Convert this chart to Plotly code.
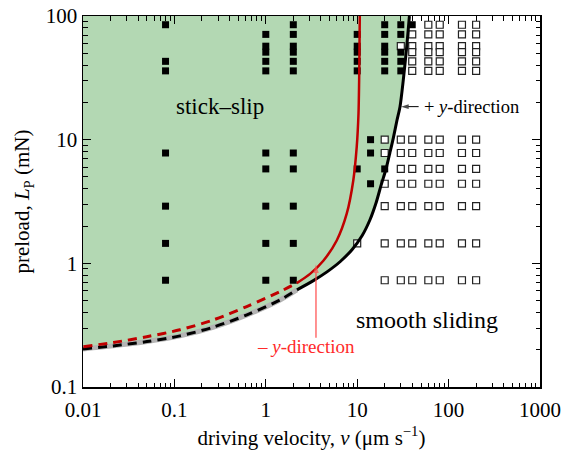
import plotly.graph_objects as go

FONT = "Liberation Serif"

# ---------------- data ----------------
# stick-slip observations (filled squares): velocity (um/s) -> preloads (mN)
stick_slip = {
    0.08: [85, 43, 36, 7.8, 2.9, 1.45, 0.73],
    1: [71, 57, 51, 43, 36, 7.8, 5.8, 2.9, 1.45, 0.73],
    2: [85, 71, 57, 51, 43, 36, 7.8, 5.8, 2.9, 1.45, 0.73],
    10: [71, 57, 51, 43, 36, 5.8],
    14: [10, 7.8, 4.4],
    20: [85, 71, 57, 51, 43, 36, 5.8],
    30: [85, 71, 51, 43, 36],
    40: [85],
}
# smooth-sliding observations (open squares)
smooth = {
    10: [1.45],
    20: [10, 7.8, 4.4, 2.9, 1.45, 0.73],
    30: [57, 10, 7.8, 5.8, 4.4, 2.9, 1.45, 0.73],
    40: [71, 57, 51, 43, 36, 10, 7.8, 5.8, 4.4, 2.9, 1.45, 0.73],
    60: [85, 71, 57, 51, 43, 36, 10, 7.8, 5.8, 4.4, 2.9, 1.45, 0.73],
    80: [85, 71, 57, 51, 43, 36, 10, 7.8, 5.8, 4.4, 2.9, 1.45, 0.73],
    140: [85, 71, 57, 51, 43, 36, 10, 7.8, 5.8, 4.4, 2.9, 1.45, 0.73],
    200: [85, 71, 57, 51, 43, 36, 10, 7.8, 5.8, 4.4, 2.9, 1.45, 0.73],
}

# + y-direction boundary (black)
black_dash_v = [0.010, 0.0213, 0.0501, 0.115, 0.264, 0.622, 1.43, 2.19]
black_dash_L = [0.203, 0.215, 0.233, 0.259, 0.304, 0.383, 0.506, 0.610]
black_solid_v = [2.19, 3.28, 4.67, 6.49, 8.77, 11.3, 13.8, 16.1, 18.2, 20.7, 22.8,
                 24.9, 27.2, 29.4, 31.9, 34.8, 37.2, 37.3]
black_solid_L = [0.610, 0.721, 0.853, 1.03, 1.29, 1.67, 2.25, 3.09, 4.25, 5.82, 7.85,
                 10.4, 14.3, 18.5, 30.2, 56.3, 98.6, 100]

# - y-direction boundary (red)
red_dash_v = [0.0101, 0.0215, 0.0498, 0.115, 0.267, 0.618, 1.43, 2.18]
red_dash_L = [0.212, 0.229, 0.255, 0.290, 0.349, 0.447, 0.591, 0.692]
red_solid_v = [2.18, 3.05, 4.26, 5.97, 7.68, 9.06, 9.88, 10.33, 10.5, 10.6, 10.67]
red_solid_L = [0.692, 0.822, 1.05, 1.53, 2.52, 4.68, 8.73, 16.2, 30.2, 56.3, 100]

# label arrows: (velocity, preload) of tail and head
plus_arrow_v = [47.0, 30.2]
plus_arrow_L = [18.5, 18.5]
minus_arrow_v = [3.54, 3.54]
minus_arrow_L = [0.25, 0.98]

x_ticks = [0.01, 0.1, 1, 10, 100, 1000]
x_ticktext = ["0.01", "0.1", "1", "10", "100", "1000"]
y_ticks = [0.1, 1, 10, 100]
y_ticktext = ["0.1", "1", "10", "100"]

# ---------------- figure ----------------
fig = go.Figure()

# green stick-slip region (left/above black boundary)
fill_v = black_dash_v + black_solid_v[1:] + [0.01]
fill_L = black_dash_L + black_solid_L[1:] + [100]
fig.add_trace(go.Scatter(x=fill_v, y=fill_L, mode="lines", fill="toself",
                         fillcolor="#b3d8b3", line=dict(width=0, shape="spline", smoothing=0.4),
                         hoverinfo="skip", showlegend=False))

def flatten(d):
    xs, ys = [], []
    for v, loads in d.items():
        for L in loads:
            xs.append(v)
            ys.append(L)
    return xs, ys

sx, sy = flatten(smooth)
fig.add_trace(go.Scatter(x=sx, y=sy, mode="markers", showlegend=False,
                         marker=dict(symbol="square", size=7, color="white",
                                     line=dict(color="#222222", width=1.2))))
fx, fy = flatten(stick_slip)
fig.add_trace(go.Scatter(x=fx, y=fy, mode="markers", showlegend=False,
                         marker=dict(symbol="square", size=7, color="black",
                                     line=dict(width=0))))

# boundaries
fig.add_trace(go.Scatter(x=black_dash_v, y=black_dash_L, mode="lines", showlegend=False,
                         line=dict(color="#b4b4b4", width=5, shape="spline", smoothing=0.8)))
fig.add_trace(go.Scatter(x=black_dash_v, y=black_dash_L, mode="lines", showlegend=False,
                         line=dict(color="black", width=3, dash="9px,6px", shape="spline", smoothing=0.8)))
fig.add_trace(go.Scatter(x=black_solid_v, y=black_solid_L, mode="lines", showlegend=False,
                         line=dict(color="black", width=3, shape="spline", smoothing=0.8)))
fig.add_trace(go.Scatter(x=red_dash_v, y=red_dash_L, mode="lines", showlegend=False,
                         line=dict(color="#c00000", width=3, dash="9px,6px", shape="spline", smoothing=0.8)))
fig.add_trace(go.Scatter(x=red_solid_v, y=red_solid_L, mode="lines", showlegend=False,
                         line=dict(color="#c00000", width=2.5, shape="spline", smoothing=0.8)))

# arrows (line + arrow-head marker)
fig.add_trace(go.Scatter(x=plus_arrow_v, y=plus_arrow_L, mode="lines+markers", showlegend=False,
                         line=dict(color="black", width=1),
                         marker=dict(symbol="arrow", angleref="previous", size=[0, 8],
                                     color="black", line=dict(width=0))))
fig.add_trace(go.Scatter(x=minus_arrow_v, y=minus_arrow_L, mode="lines+markers", showlegend=False,
                         line=dict(color="#ff4a4a", width=1.2),
                         marker=dict(symbol="arrow", angleref="previous", size=[0, 9],
                                     color="#ff4a4a", line=dict(width=0))))

minor_vals = [m * 10 ** e for e in range(-3, 4) for m in range(2, 10)]

axis_common = dict(
    type="log", showline=True, linecolor="black", linewidth=1.5, mirror="ticks",
    ticks="inside", ticklen=8, tickwidth=1, tickcolor="black",
    showgrid=False, zeroline=False, automargin=False, ticklabeloverflow="allow",
    tickfont=dict(family=FONT, size=21, color="black"),
    minor=dict(ticks="inside", ticklen=4.5, tickwidth=1, tickcolor="black",
               tickmode="array", tickvals=minor_vals, showgrid=False),
)

fig.update_layout(
    width=566, height=455,
    margin=dict(l=83, r=26, t=16, b=68, autoexpand=False),
    paper_bgcolor="white", plot_bgcolor="white",
    font=dict(family=FONT, color="black"),
    hovermode=False,
    xaxis=dict(axis_common, range=[-2, 3], tickmode="array",
               tickvals=x_ticks, ticktext=x_ticktext, ticklabelstandoff=3,
               title=dict(text="driving velocity, <i>v</i> (μm s<sup>−1</sup>)",
                          font=dict(family=FONT, size=21), standoff=9)),
    yaxis=dict(axis_common, range=[-1, 2], tickmode="array",
               tickvals=y_ticks, ticktext=y_ticktext,
               title=dict(text="preload, <i>L</i><sub>P</sub> (mN)",
                          font=dict(family=FONT, size=21), standoff=10)),
)

fig.add_annotation(x=-0.501, y=1.267, xref="x", yref="y", text="stick–slip",
                   showarrow=False, font=dict(family=FONT, size=23, color="black"))
fig.add_annotation(x=1.760, y=-0.457, xref="x", yref="y", text="smooth sliding",
                   showarrow=False, font=dict(family=FONT, size=24, color="black"))
fig.add_annotation(x=1.709, y=1.267, xref="x", yref="y", text="+ <i>y</i>-direction",
                   showarrow=False, xanchor="left",
                   font=dict(family=FONT, size=18.5, color="black"))
fig.add_annotation(x=0.445, y=-0.676, xref="x", yref="y", text="– <i>y</i>-direction",
                   showarrow=False, font=dict(family=FONT, size=19, color="#ff2a2a"))

fig.write_html("out.html",
               config={"displayModeBar": False, "staticPlot": True},
               post_script="document.body.style.margin='0px';document.body.style.overflow='hidden';")
